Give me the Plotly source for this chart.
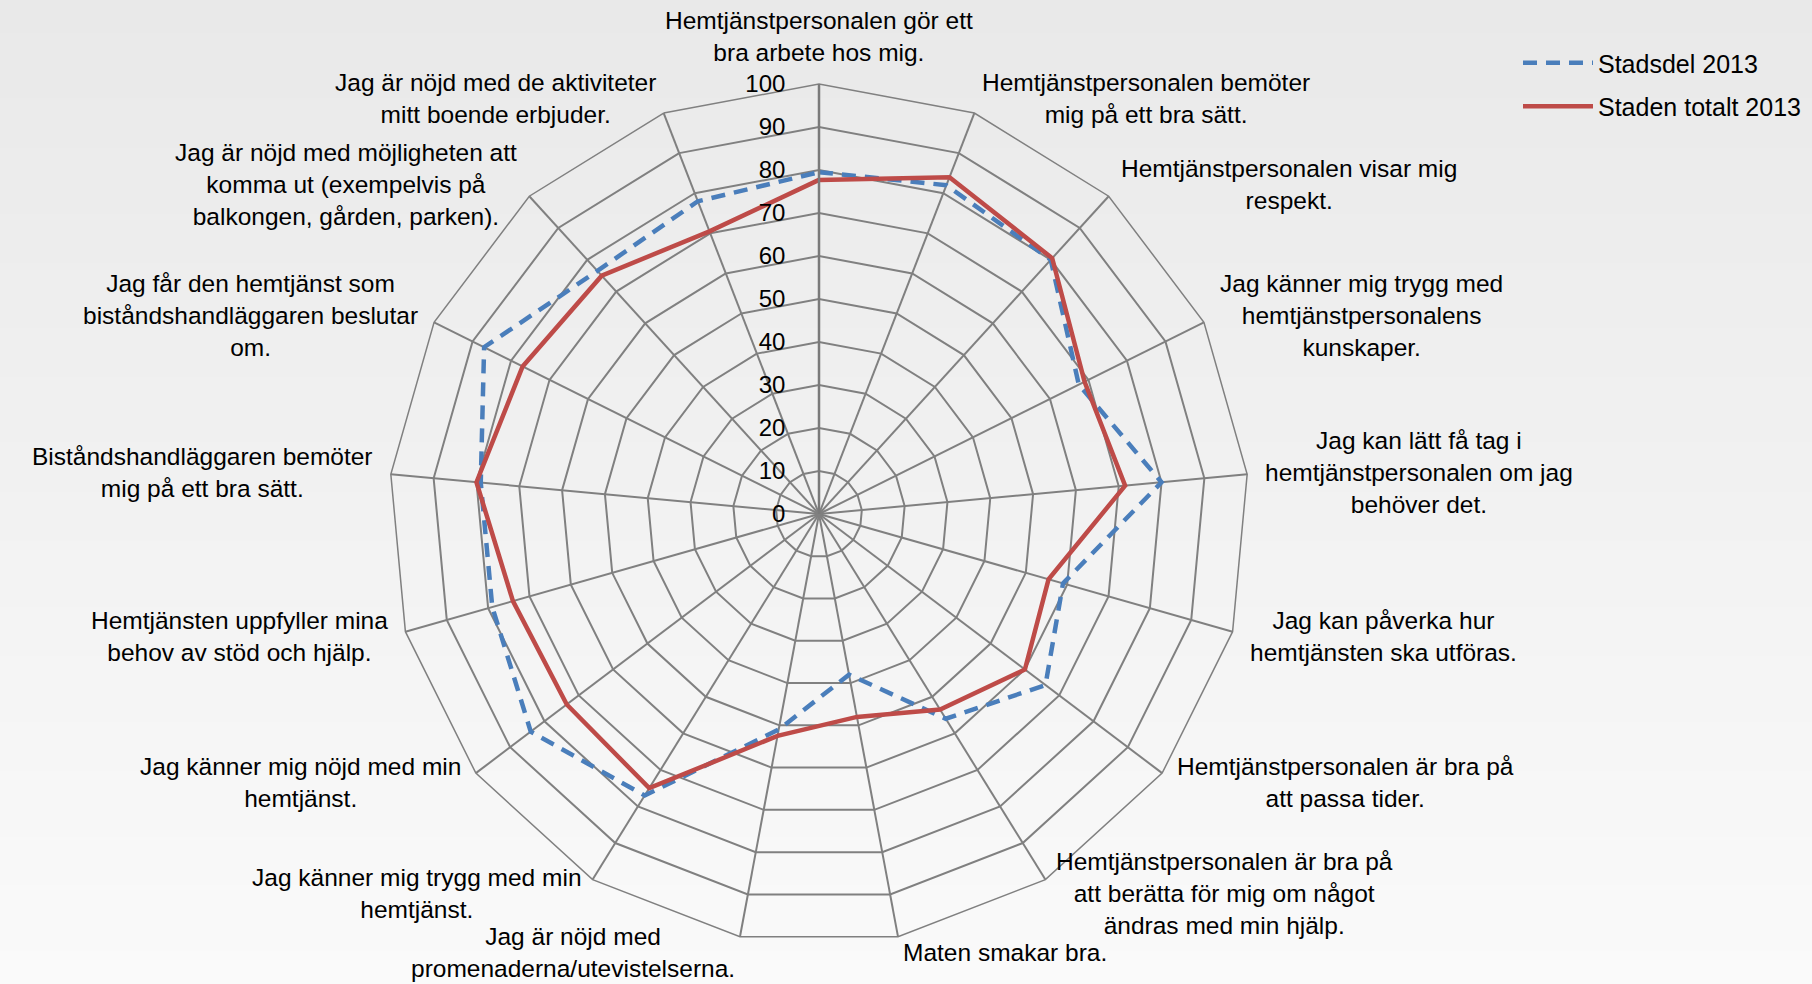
import math
import plotly.graph_objects as go

# ---------------- data ----------------
categories = [
    "Hemtjänstpersonalen gör ett<br>bra arbete hos mig.",
    "Hemtjänstpersonalen bemöter<br>mig på ett bra sätt.",
    "Hemtjänstpersonalen visar mig<br>respekt.",
    "Jag känner mig trygg med<br>hemtjänstpersonalens<br>kunskaper.",
    "Jag kan lätt få tag i<br>hemtjänstpersonalen om jag<br>behöver det.",
    "Jag kan påverka hur<br>hemtjänsten ska utföras.",
    "Hemtjänstpersonalen är bra på<br>att passa tider.",
    "Hemtjänstpersonalen är bra på<br>att berätta för mig om något<br>ändras med min hjälp.",
    "Maten smakar bra.",
    "Jag är nöjd med<br>promenaderna/utevistelserna.",
    "Jag känner mig trygg med min<br>hemtjänst.",
    "Jag känner mig nöjd med min<br>hemtjänst.",
    "Hemtjänsten uppfyller mina<br>behov av stöd och hjälp.",
    "Biståndshandläggaren bemöter<br>mig på ett bra sätt.",
    "Jag får den hemtjänst som<br>biståndshandläggaren beslutar<br>om.",
    "Jag är nöjd med möjligheten att<br>komma ut (exempelvis på<br>balkongen, gården, parken).",
    "Jag är nöjd med de aktiviteter<br>mitt boende erbjuder.",
]
stadsdel_2013 = [79.5, 82, 80, 67.5, 80, 59, 66, 56, 38, 51, 77, 84, 79, 79, 87, 76.5, 78]
staden_totalt_2013 = [77.7, 84, 80.5, 69, 71.5, 55.5, 60, 53.5, 48, 52.5, 75, 73.5, 74, 80, 77, 75, 70.5]
series_names = ["Stadsdel 2013", "Staden totalt 2013"]
radial_ticks = list(range(0, 101, 10))

# ---------------- layout geometry ----------------
W, H = 1812, 984
CX, CY, RAD = 819, 514, 430          # polar centre / radius in px
LABEL_GAP = 16
FONT = "Liberation Sans, Arial, sans-serif"
GRID = "#808080"

fig = go.Figure()


def closed(v):
    return list(v) + [v[0]]


fig.add_trace(go.Scatterpolar(
    r=closed(stadsdel_2013), theta=closed(categories), mode="lines",
    name=series_names[0], legendgroup="a",
    line=dict(color="#4A7EBB", width=4.5, dash="14px,9px"),
))
fig.add_trace(go.Scatterpolar(
    r=closed(staden_totalt_2013), theta=closed(categories), mode="lines",
    name=series_names[1], legendgroup="b",
    line=dict(color="#BE4B48", width=4.5),
))

# background gradient (light grey at top -> almost white at bottom)
n = 60
for i in range(n):
    t = i / (n - 1)
    c = int(round(233 + (250 - 233) * t))
    fig.add_shape(type="rect", xref="paper", yref="paper", x0=0, x1=1,
                  y0=1 - (i + 1) / n - 0.002, y1=1 - i / n,
                  fillcolor=f"rgb({c},{c},{c})", line_width=0, layer="below")

# category labels, placed like the original (outside each spoke)
N = len(categories)
for i, txt in enumerate(categories):
    ang = 2 * math.pi * i / N
    s, c = math.sin(ang), math.cos(ang)
    R = RAD + LABEL_GAP
    px = CX + R * s
    py = CY - R * c
    if abs(s) < 1e-6:
        xa, ya = "center", ("bottom" if c > 0 else "top")
    elif s > 0:
        xa, ya = "left", "middle"
    else:
        xa, ya = "right", "middle"
    fig.add_annotation(x=px / W, y=1 - py / H, xref="paper", yref="paper",
                       text=txt, showarrow=False, xanchor=xa, yanchor=ya,
                       align="center", font=dict(family=FONT, size=24.5, color="#000000"))

fig.update_layout(
    width=W, height=H,
    margin=dict(l=0, r=0, t=0, b=0),
    paper_bgcolor="white",
    font=dict(family=FONT, size=25, color="#000000"),
    polar=dict(
        domain=dict(x=[(CX - RAD) / W, (CX + RAD) / W],
                    y=[1 - (CY + RAD) / H, 1 - (CY - RAD) / H]),
        bgcolor="rgba(0,0,0,0)",
        gridshape="linear",
        angularaxis=dict(
            direction="clockwise", rotation=90,
            showticklabels=False, ticks="",
            showgrid=True, gridcolor=GRID, gridwidth=1.5,
            showline=True, linecolor=GRID, linewidth=1.5,
        ),
        radialaxis=dict(
            range=[0, 100], tickvals=radial_ticks, angle=90, side="counterclockwise",
            tickangle=90, showgrid=True, gridcolor=GRID, gridwidth=1.5,
            showline=True, linecolor="#7a7a7a", linewidth=2.5,
            ticks="outside", ticklen=24, tickcolor="rgba(0,0,0,0)",
            tickfont=dict(family=FONT, size=24, color="#000000"),
        ),
    ),
    legend=dict(
        x=1518 / W, y=1 - 40 / H, xanchor="left", yanchor="top",
        bgcolor="rgba(0,0,0,0)", traceorder="grouped", tracegroupgap=8,
        itemwidth=70,
        font=dict(family=FONT, size=25, color="#000000"),
    ),
    showlegend=True,
)

fig.write_html("out.html", config={"displayModeBar": False},
               post_script="document.body.style.margin='0px';")
